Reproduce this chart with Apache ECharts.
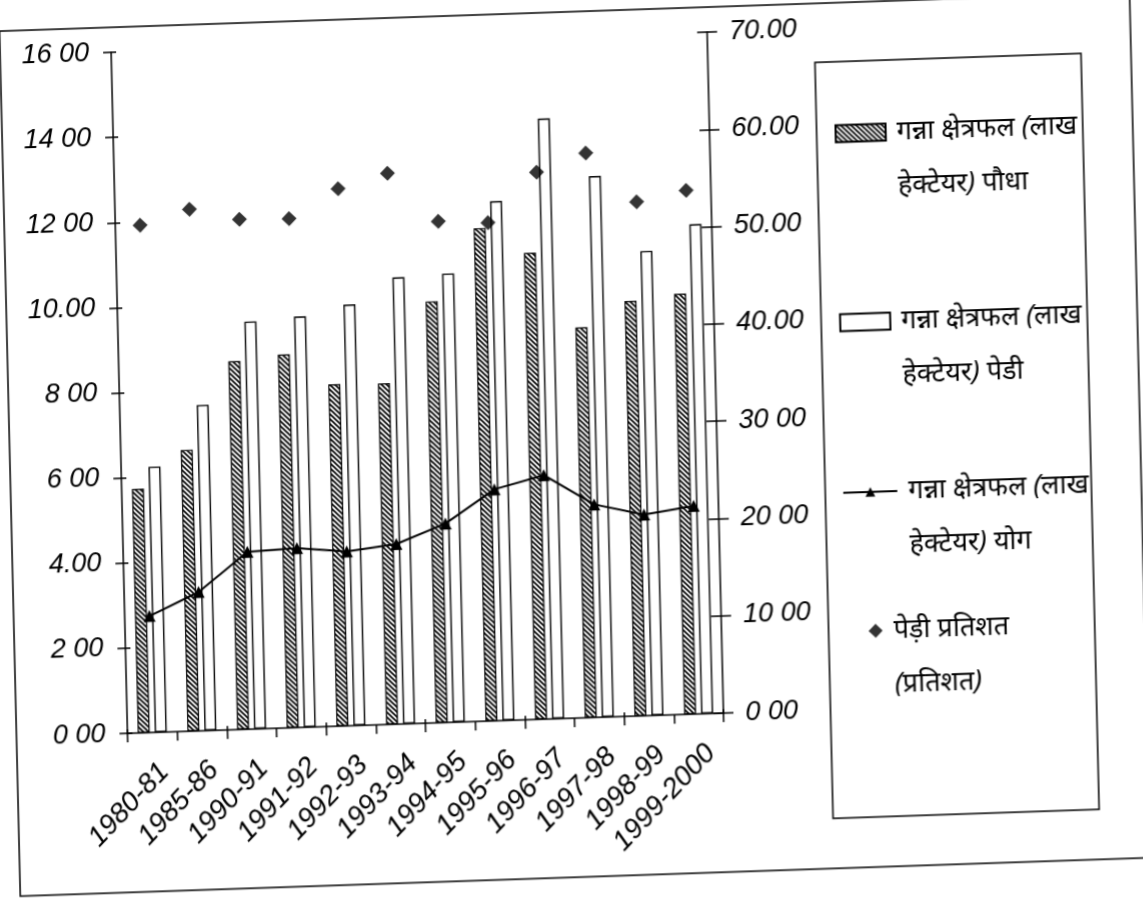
<!DOCTYPE html>
<html>
<head>
<meta charset="utf-8">
<script src="https://cdn.jsdelivr.net/npm/echarts@6/dist/echarts.min.js"></script>
<style>
  html, body { margin: 0; padding: 0; background: #fff; overflow: hidden; }
  #chart {
    width: 1143px; height: 899px;
    transform-origin: 571.5px 449.5px;
    transform: matrix(1, -0.034, 0.024, 1, 0, 0);
  }
</style>
</head>
<body>
<div id="chart"></div>
<script>
// Sugarcane area by season (lakh hectare) and ratoon share (%)
const categories = ['1980-81', '1985-86', '1990-91', '1991-92', '1992-93', '1993-94',
                    '1994-95', '1995-96', '1996-97', '1997-98', '1998-99', '1999-2000'];
const paudha = [5.73, 6.61, 8.65, 8.77, 8.03, 8.01, 9.90, 11.58, 10.96, 9.17, 9.75, 9.88];
const pedi = [6.24, 7.65, 9.57, 9.65, 9.89, 10.49, 10.54, 12.20, 14.10, 12.71, 10.91, 11.50];
const yog = [11.97, 14.26, 18.22, 18.42, 17.92, 18.50, 20.44, 23.78, 25.06, 21.88, 20.66, 21.38];
const pediPratishat = [52.15, 53.6, 52.4, 52.3, 55.2, 56.6, 51.5, 51.2, 56.2, 58.0, 52.8, 53.8];

const leftTickLabels = ['0 00', '2 00', '4.00', '6 00', '8 00', '10.00', '12 00', '14 00', '16 00'];
const rightTickLabels = ['0 00', '10 00', '20 00', '30 00', '40.00', '50.00', '60.00', '70.00'];

const seriesNames = [
  'गन्ना क्षेत्रफल (लाख\nहेक्टेयर) पौधा',
  'गन्ना क्षेत्रफल (लाख\nहेक्टेयर) पेडी',
  'गन्ना क्षेत्रफल (लाख\nहेक्टेयर) योग',
  'पेड़ी प्रतिशत\n(प्रतिशत)'
];

// diagonal hatch tile for the plant-crop bars
function hatchTile() {
  const s = 5;
  const c = document.createElement('canvas');
  c.width = s; c.height = s;
  const g = c.getContext('2d');
  g.fillStyle = '#fff';
  g.fillRect(0, 0, s, s);
  g.strokeStyle = '#000';
  g.lineWidth = 1.6;
  g.beginPath();
  g.moveTo(-1, -1); g.lineTo(s + 1, s + 1);
  g.moveTo(-1, s - 1); g.lineTo(1, s + 1);
  g.moveTo(s - 1, -1); g.lineTo(s + 1, 1);
  g.stroke();
  return c;
}
const hatch = { image: hatchTile(), repeat: 'repeat' };

const FONT = "'Liberation Sans', Arial, sans-serif";
const LEGEND_FONT = "'Noto Sans', 'Liberation Sans', sans-serif";
const axisText = { color: '#000', fontSize: 27, fontStyle: 'italic', fontFamily: FONT };
const lineStyleBlack = { color: '#000', width: 1.5 };

const GRID = { left: 121, right: 426, top: 37, bottom: 181 };

// one legend block per series: a blank first line puts the icon beside the first text line
function legendAt(name, icon, left, top, itemWidth, itemHeight) {
  return {
    data: [{ name: name, icon: icon }], left: left, top: top, orient: 'vertical',
    itemWidth: itemWidth, itemHeight: itemHeight, itemGap: 0,
    selectedMode: false, padding: 0,
    formatter: n => ' \n' + n,
    textStyle: {
      color: '#000', fontSize: 27, fontStyle: 'italic', fontFamily: LEGEND_FONT,
      lineHeight: 54, padding: [0, 0, 0, 6]
    }
  };
}

const chart = echarts.init(document.getElementById('chart'), null, { renderer: 'canvas' });
chart.setOption({
  backgroundColor: '#fff',
  animation: false,
  grid: GRID,
  xAxis: [
    {
      type: 'category', data: categories, position: 'bottom',
      axisLine: { lineStyle: lineStyleBlack },
      axisTick: { show: true, length: 9, alignWithLabel: false, lineStyle: lineStyleBlack },
      axisLabel: { ...axisText, fontSize: 28, rotate: 45, interval: 0, margin: 24,
                   verticalAlign: 'top', lineHeight: 32 },
      splitLine: { show: false }
    },
    {
      type: 'category', data: categories, position: 'bottom',
      axisLine: { show: false },
      axisTick: { show: true, inside: true, length: 4, lineStyle: lineStyleBlack },
      axisLabel: { show: false }, splitLine: { show: false }
    }
  ],
  yAxis: [
    {
      type: 'value', min: 0, max: 16, interval: 2, position: 'left',
      axisLine: { show: true, lineStyle: lineStyleBlack },
      axisTick: { show: true, length: 8, lineStyle: lineStyleBlack },
      axisLabel: { ...axisText, margin: 22, formatter: v => leftTickLabels[Math.round(v / 2)] },
      splitLine: { show: false }
    },
    {
      type: 'value', min: 0, max: 70, interval: 10, position: 'right',
      axisLine: { show: true, lineStyle: lineStyleBlack },
      axisTick: { show: true, length: 10, lineStyle: lineStyleBlack },
      axisLabel: { ...axisText, margin: 22, formatter: v => rightTickLabels[Math.round(v / 10)] },
      splitLine: { show: false }
    },
    {
      type: 'value', min: 0, max: 16, interval: 2, position: 'left',
      axisLine: { show: false },
      axisTick: { show: true, inside: true, length: 5, lineStyle: lineStyleBlack },
      axisLabel: { show: false }, splitLine: { show: false }
    },
    {
      type: 'value', min: 0, max: 70, interval: 10, position: 'right',
      axisLine: { show: false },
      axisTick: { show: true, inside: true, length: 10, lineStyle: lineStyleBlack },
      axisLabel: { show: false }, splitLine: { show: false }
    }
  ],
  legend: [
    legendAt(seriesNames[0], 'rect', 842, 62, 50, 17),
    legendAt(seriesNames[1], 'rect', 842, 251, 50, 17),
    legendAt(seriesNames[2], undefined, 841, 421, 54, 12),
    legendAt(seriesNames[3], 'diamond', 864, 560, 14, 14)
  ],
  graphic: [
    { type: 'rect', shape: { x: 10, y: 12, width: 1130, height: 865 },
      style: { fill: null, stroke: '#000', lineWidth: 1.5 }, silent: true, z: -1 },
    { type: 'rect', shape: { x: 824, y: 71, width: 266, height: 756 },
      style: { fill: null, stroke: '#000', lineWidth: 1.5 }, silent: true, z: -1 }
  ],
  series: [
    {
      name: seriesNames[0], type: 'bar', data: paudha, xAxisIndex: 0, yAxisIndex: 0,
      barWidth: 12, barGap: '42%',
      itemStyle: { color: hatch, borderColor: '#000', borderWidth: 1.2 }
    },
    {
      name: seriesNames[1], type: 'bar', data: pedi, xAxisIndex: 0, yAxisIndex: 0,
      barWidth: 12,
      itemStyle: { color: '#fff', borderColor: '#000', borderWidth: 1.4 }
    },
    {
      name: seriesNames[2], type: 'line', data: yog, xAxisIndex: 0, yAxisIndex: 1,
      symbol: 'triangle', symbolSize: 12,
      lineStyle: { color: '#000', width: 2 },
      itemStyle: { color: '#000' }, z: 5
    },
    {
      name: seriesNames[3], type: 'scatter', data: pediPratishat, xAxisIndex: 0, yAxisIndex: 1,
      symbol: 'diamond', symbolSize: 15,
      itemStyle: { color: '#000' }, z: 5
    }
  ]
});
</script>
</body>
</html>
